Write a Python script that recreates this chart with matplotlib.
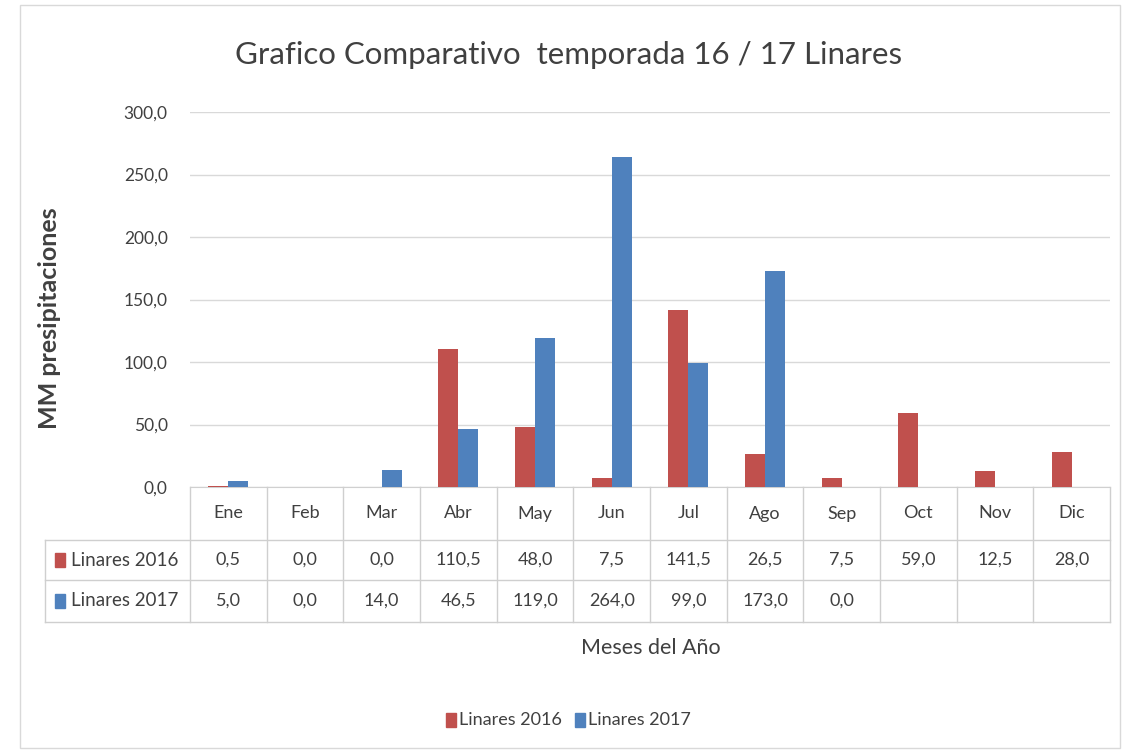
import numpy as np
import matplotlib.pyplot as plt
from matplotlib.lines import Line2D

plt.rcParams['font.family'] = ['Lato', 'DejaVu Sans']

meses = ['Ene', 'Feb', 'Mar', 'Abr', 'May', 'Jun', 'Jul', 'Ago', 'Sep', 'Oct', 'Nov', 'Dic']
linares_2016 = [0.5, 0.0, 0.0, 110.5, 48.0, 7.5, 141.5, 26.5, 7.5, 59.0, 12.5, 28.0]
linares_2017 = [5.0, 0.0, 14.0, 46.5, 119.0, 264.0, 99.0, 173.0, 0.0, None, None, None]
series = ['Linares 2016', 'Linares 2017']
colores = ['#C0504D', '#4F81BD']
yticks = [0, 50, 100, 150, 200, 250, 300]

W, H = 1127, 756
fig = plt.figure(figsize=(W / 100, H / 100), dpi=100)

# marco del grafico
fig.add_artist(plt.Rectangle((20 / W, 1 - 748 / H), 1100 / W, 743 / H, transform=fig.transFigure,
                             fill=False, edgecolor='#D9D9D9', linewidth=1))

x0, x1, ytop, ybot = 190, 1110, 112, 487
ax = fig.add_axes([x0 / W, 1 - ybot / H, (x1 - x0) / W, (ybot - ytop) / H])

x = np.arange(len(meses))
bw = 0.26
v16 = np.array([np.nan if v is None else v for v in linares_2016], dtype=float)
v17 = np.array([np.nan if v is None else v for v in linares_2017], dtype=float)
ax.bar(x - bw / 2, v16, bw, color=colores[0], zorder=3)
ax.bar(x + bw / 2, v17, bw, color=colores[1], zorder=3)

ax.set_xlim(-0.5, len(meses) - 0.5)
ax.set_ylim(0, 300)
ax.set_yticks(yticks)
ax.set_yticklabels([f'{v:.1f}'.replace('.', ',') for v in yticks], fontsize=12.5, color='#404040')
ax.tick_params(axis='y', length=0, pad=16)
ax.set_xticks([])
ax.grid(axis='y', color='#D9D9D9', linewidth=1, zorder=0)
for s in ['left', 'right', 'top']:
    ax.spines[s].set_visible(False)
ax.spines['bottom'].set_color('#D0D0D0')

# tabla de datos bajo el eje (en pixeles de figura)
def fy(py):
    return 1 - py / H

def fx(px):
    return px / W

lc = '#CFCFCF'
row_y = [487, 540, 580, 622]
cat_w = (x1 - x0) / len(meses)
tab_left = 45
for py in row_y[1:]:
    fig.add_artist(Line2D([fx(tab_left), fx(x1)], [fy(py), fy(py)], color=lc, lw=1))
for i in range(len(meses) + 1):
    px = x0 + i * cat_w
    fig.add_artist(Line2D([fx(px), fx(px)], [fy(row_y[0]), fy(row_y[-1])], color=lc, lw=1))
fig.add_artist(Line2D([fx(tab_left), fx(tab_left)], [fy(row_y[1]), fy(row_y[-1])], color=lc, lw=1))

tc = '#404040'
for i, m in enumerate(meses):
    cx = x0 + (i + 0.5) * cat_w
    fig.text(fx(cx), fy((row_y[0] + row_y[1]) / 2), m, ha='center', va='center', fontsize=13, color=tc)
    for r, vals in enumerate([linares_2016, linares_2017]):
        v = vals[i]
        if v is None:
            continue
        fig.text(fx(cx), fy((row_y[r + 1] + row_y[r + 2]) / 2), f'{v:.1f}'.replace('.', ','),
                 ha='center', va='center', fontsize=13, color=tc)

for r, (nombre, c) in enumerate(zip(series, colores)):
    cy = (row_y[r + 1] + row_y[r + 2]) / 2
    fig.add_artist(plt.Rectangle((fx(55), fy(cy + 7)), 10 / W, 14 / H, transform=fig.transFigure,
                                 color=c))
    fig.text(fx(71), fy(cy), nombre, ha='left', va='center', fontsize=13.5, color=tc)

# titulos
fig.text(fx(569), fy(55), 'Grafico Comparativo  temporada 16 / 17 Linares', ha='center', va='center',
         fontsize=22.5, color='#404040')
fig.text(fx(651), fy(648), 'Meses del Año', ha='center', va='center', fontsize=15.5, color='#404040')
fig.text(fx(50), fy(318), 'MM presipitaciones', ha='center', va='center', rotation=90,
         fontsize=18, fontweight='bold', color='#404040')

# leyenda
leg_y = 720
for (nombre, c), px in zip(zip(series, colores), [446, 575]):
    fig.add_artist(plt.Rectangle((fx(px), fy(leg_y + 7)), 10 / W, 14 / H, transform=fig.transFigure, color=c))
    fig.text(fx(px + 13), fy(leg_y), nombre, ha='left', va='center', fontsize=13, color=tc)

fig.savefig('out.png', dpi=100)
